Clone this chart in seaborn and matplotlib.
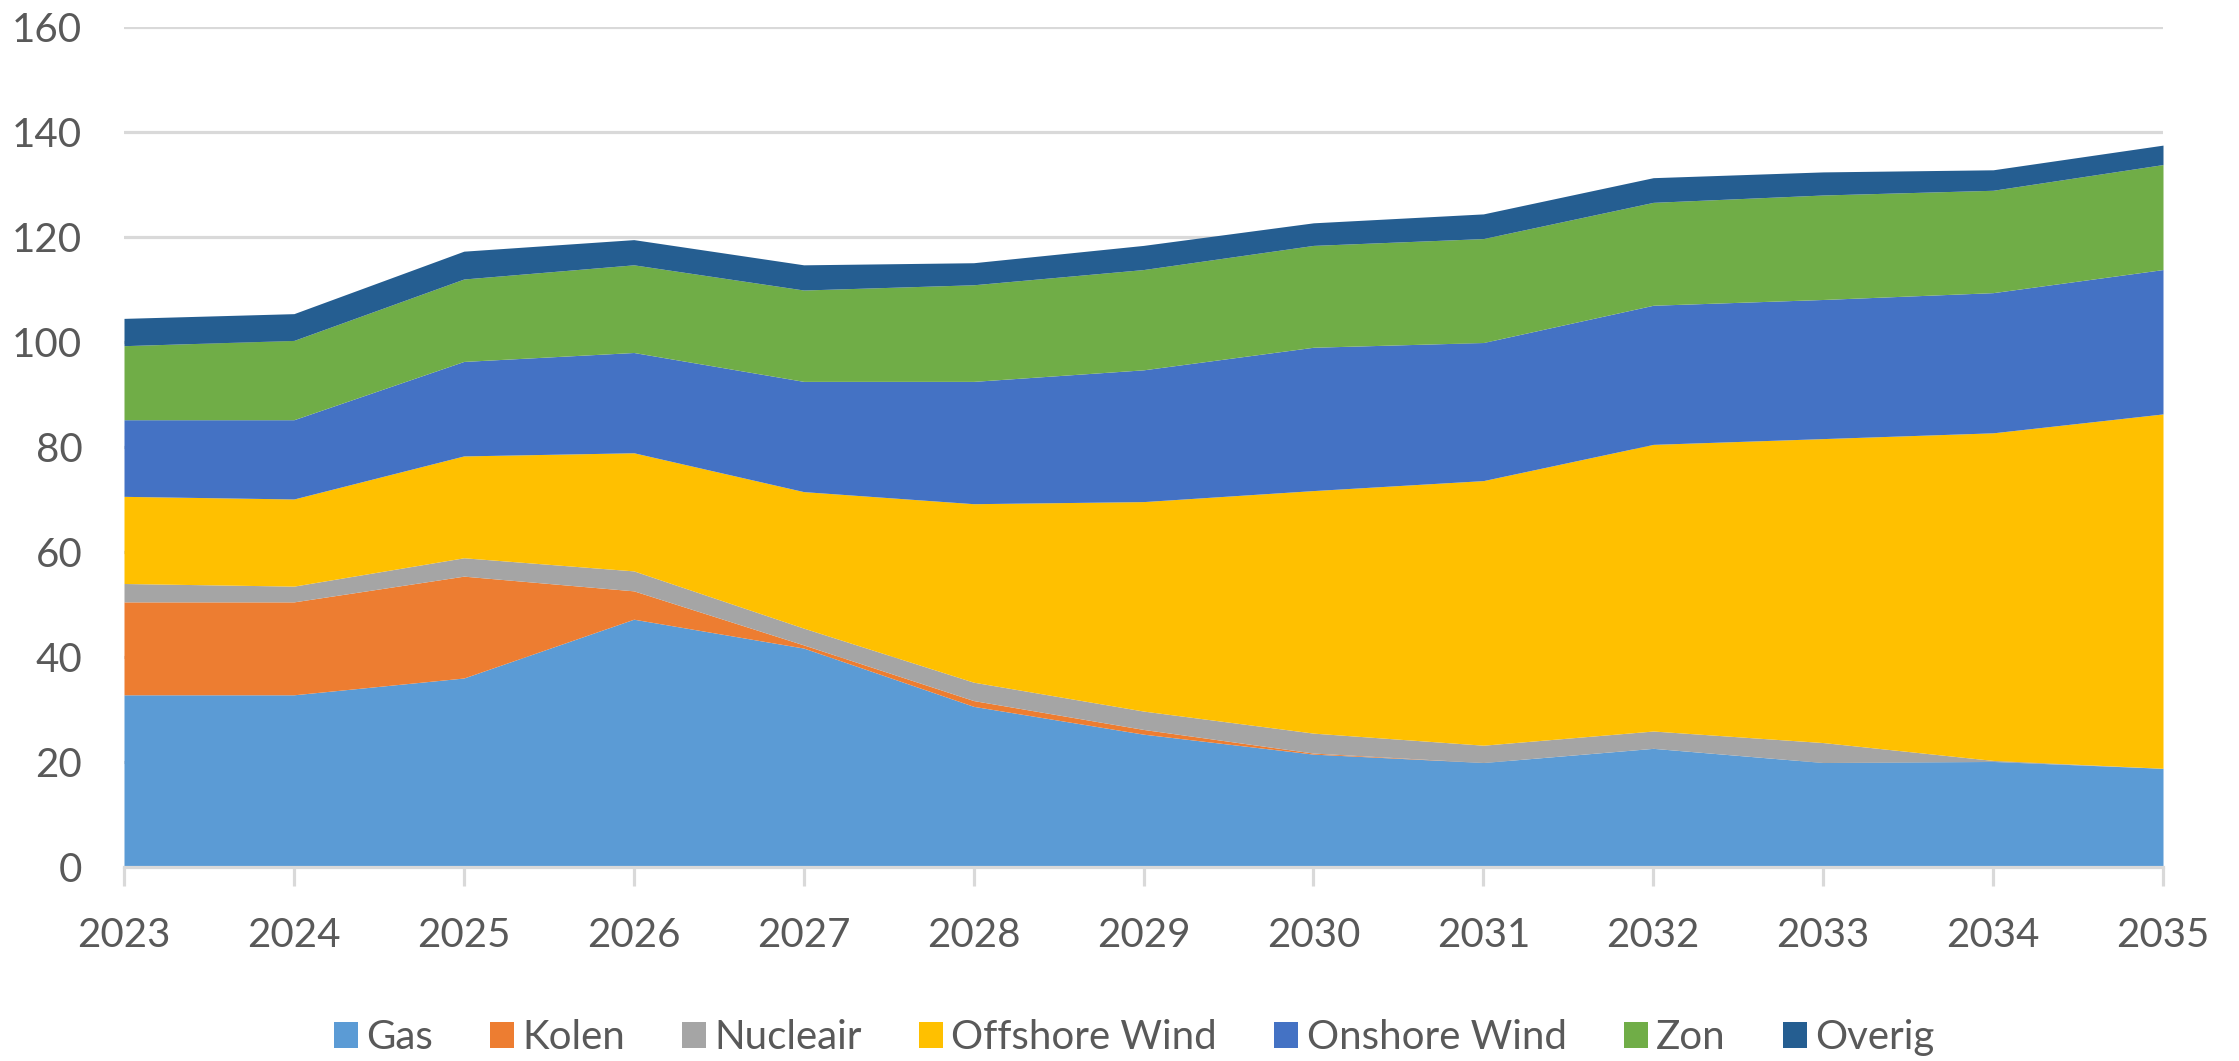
import matplotlib
matplotlib.use("Agg")
import matplotlib.pyplot as plt
import seaborn as sns
import numpy as np
from matplotlib.patches import Patch

years = [2023, 2024, 2025, 2026, 2027, 2028, 2029, 2030, 2031, 2032, 2033, 2034, 2035]
gas = [32.8, 32.8, 36.0, 47.2, 41.7, 30.6, 25.3, 21.5, 19.9, 22.6, 19.9, 20.1, 18.8]
kolen = [17.7, 17.7, 19.4, 5.4, 0.6, 1.1, 0.9, 0.2, 0.0, 0.0, 0.0, 0.0, 0.0]
nucleair = [3.5, 3.0, 3.5, 3.8, 3.2, 3.5, 3.5, 3.8, 3.3, 3.3, 3.8, 0.2, 0.0]
offshore = [16.6, 16.6, 19.4, 22.5, 26.0, 34.0, 39.9, 46.2, 50.4, 54.6, 57.9, 62.4, 67.5]
onshore = [14.6, 15.1, 18.0, 19.1, 21.0, 23.3, 25.1, 27.3, 26.3, 26.5, 26.5, 26.7, 27.5]
zon = [14.1, 15.1, 15.7, 16.7, 17.4, 18.4, 19.1, 19.4, 19.8, 19.6, 19.9, 19.5, 20.0]
overig = [5.2, 5.1, 5.3, 4.8, 4.8, 4.2, 4.6, 4.3, 4.7, 4.7, 4.4, 3.9, 3.7]

labels = ["Gas", "Kolen", "Nucleair", "Offshore Wind", "Onshore Wind", "Zon", "Overig"]
colors = ["#5B9BD5", "#ED7D31", "#A5A5A5", "#FFC000", "#4472C4", "#70AD47", "#255E91"]

sns.set_theme(style="white")
plt.rcParams['font.family'] = ['Lato', 'DejaVu Sans']

fig = plt.figure(figsize=(22.39, 10.61), dpi=100)
ax = fig.add_axes([124/2239, 1 - 867/1061, (2163-124)/2239, (867-27)/1061])

series = [gas, kolen, nucleair, offshore, onshore, zon, overig]
ax.stackplot(years, *series, colors=colors, labels=labels, linewidth=0)

grid_c = "#D9D9D9"
ax.set_xlim(2023, 2035)
ax.set_ylim(0, 160)
ax.set_yticks(np.arange(0, 161, 20))
ax.set_xticks(years)
ax.set_xticklabels([str(y) for y in years])
ax.yaxis.grid(True, color=grid_c, linewidth=2.3)
ax.xaxis.grid(False)
ax.set_axisbelow(True)
for s in ["left", "right", "top"]:
    ax.spines[s].set_visible(False)
ax.spines["bottom"].set_color(grid_c)
ax.spines["bottom"].set_linewidth(2.3)
ax.spines["bottom"].set_zorder(5)

ax.tick_params(axis="x", labelsize=29, length=14, width=2.3,
               direction="out", pad=22, bottom=True, color=grid_c, labelcolor="#595959")
ax.tick_params(axis="y", labelcolor="#595959", labelsize=29, length=0, pad=30)

handles = [Patch(facecolor=c, edgecolor="none") for c in colors]
leg = fig.legend(handles, labels, loc="center", bbox_to_anchor=(0.5065, 0.022), ncol=7,
                 frameon=False, fontsize=29, handlelength=0.6, handleheight=0.6,
                 handletextpad=0.2, columnspacing=1.42, labelcolor="#595959")

fig.savefig("out.png", dpi=100)
